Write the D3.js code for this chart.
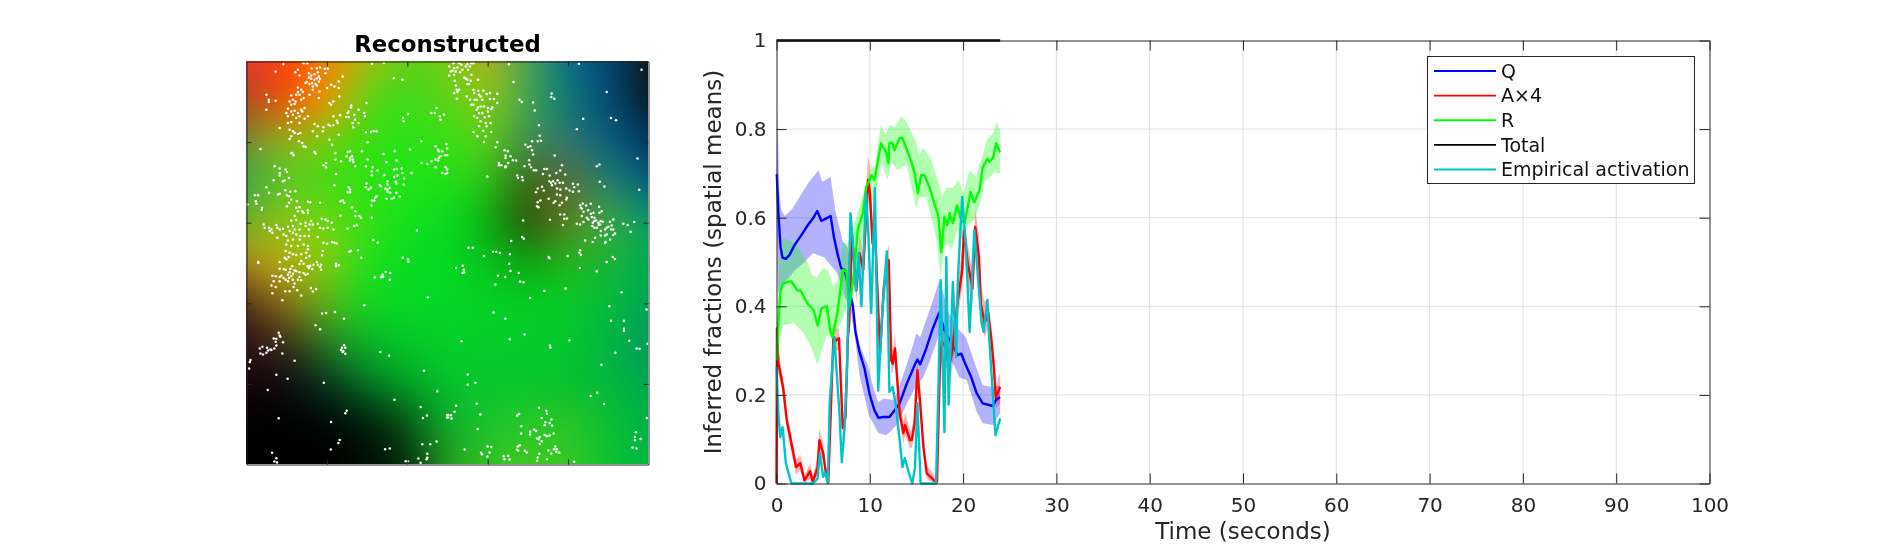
<!DOCTYPE html>
<html>
<head>
<meta charset="utf-8">
<script src="https://cdn.jsdelivr.net/npm/d3@7/dist/d3.min.js"></script>
<style>
  html, body { margin: 0; background: #fff; overflow: hidden; }
  canvas, svg { position: absolute; left: 0; top: 0; }
  text { font-family: "DejaVu Sans", sans-serif; fill: #262626; }
</style>
</head>
<body>
<script>
// time in seconds, fraction
const qLine = [[0.03,.698],[.2,.61],[.43,.534],[.64,.51],[1,.507],[1.4,.516],[1.93,.538],[2.65,.56],[3.35,.583],[3.9,.598],[4.36,.615],[4.8,.593],[5.3,.598],[5.8,.604],[6.15,.557],[6.57,.516],[6.93,.486],[7.3,.482],[7.7,.444],[8.2,.399],[8.47,.342],[8.9,.297],[9.43,.26],[10,.2],[10.5,.165],[10.93,.148],[11.4,.15],[12.1,.15],[12.65,.165],[13.2,.181],[13.9,.222],[14.8,.267],[15.1,.28],[15.4,.269],[16.05,.305],[16.75,.35],[17.45,.386],[18,.346],[18.45,.328],[18.9,.312],[19.4,.29],[19.8,.293],[20.3,.267],[20.85,.241],[21.45,.204],[22.1,.181],[23.2,.175],[23.5,.188],[23.97,.195]];
const qUpper = [[0,.7],[.1,.85],[.3,.66],[.5,.617],[.9,.604],[1.7,.62],[2.6,.651],[3.5,.681],[4.5,.707],[4.9,.681],[5.8,.692],[6.3,.617],[7.1,.546],[7.6,.534],[8,.497],[8.4,.357],[8.9,.312],[9.8,.267],[10.3,.222],[10.9,.184],[11.5,.192],[12.6,.188],[13.2,.222],[14.4,.297],[15,.339],[15.4,.33],[16.6,.403],[17.47,.459],[18.5,.384],[19.6,.346],[20.3,.33],[21.4,.263],[22.1,.222],[23.2,.218],[23.97,.222]];
const qLower = [[0,.62],[.15,.43],[1.1,.459],[2,.482],[2.9,.497],[3.9,.52],[5.1,.511],[6.5,.475],[7.3,.421],[7.9,.398],[8.4,.33],[8.9,.245],[9.9,.154],[10.9,.114],[11.8,.109],[12.9,.132],[13.9,.177],[15,.222],[15.7,.238],[16.4,.274],[17.3,.328],[17.5,.346],[18.6,.285],[19.6,.24],[20.4,.233],[21.4,.165],[22.1,.136],[23.2,.132],[23.97,.159]];

const rLine = [[.05,.278],[.2,.362],[.4,.43],[.7,.452],[1.55,.457],[2.25,.436],[2.6,.435],[3.3,.407],[4,.391],[4.4,.357],[4.85,.396],[5.4,.4],[5.75,.346],[6,.33],[6.57,.391],[7.1,.482],[7.47,.48],[7.8,.399],[8.36,.482],[8.7,.572],[9.25,.61],[9.6,.669],[10.2,.696],[10.5,.685],[11.2,.768],[11.75,.748],[12,.723],[12.1,.768],[12.4,.77],[12.65,.753],[13.2,.78],[13.5,.78],[13.9,.757],[14.4,.73],[14.8,.7],[15.15,.655],[15.5,.696],[15.86,.696],[16.4,.669],[16.9,.633],[17.36,.602],[17.65,.522],[18,.602],[18.3,.583],[18.55,.61],[18.9,.588],[19.36,.628],[19.8,.594],[20.15,.588],[20.5,.625],[20.8,.658],[21.2,.635],[21.76,.662],[22.1,.713],[22.6,.733],[22.8,.726],[23.2,.735],[23.54,.768],[23.97,.748]];
const rUpper = [[.03,.3],[.3,.5],[.5,.55],[1,.552],[2.1,.542],[3.4,.497],[3.8,.47],[4.4,.466],[4.9,.486],[5.5,.482],[6.1,.444],[6.6,.46],[7.1,.546],[7.6,.54],[8.7,.61],[9.25,.647],[9.7,.678],[10.2,.723],[10.5,.707],[11.2,.811],[11.7,.786],[12.1,.809],[12.7,.805],[13.4,.83],[14.1,.809],[15,.768],[15.3,.741],[15.7,.759],[16.6,.73],[17.5,.669],[17.7,.647],[18.2,.669],[18.9,.667],[19.5,.685],[20,.655],[20.7,.707],[21.4,.692],[22.1,.741],[22.5,.775],[23.2,.791],[23.6,.816],[23.97,.798]];
const rLower = [[.05,.278],[.4,.33],[.75,.357],[1.9,.362],[2.8,.342],[3.7,.308],[4.4,.267],[4.85,.301],[5.4,.335],[6,.33],[6.8,.357],[7.4,.391],[8.1,.43],[8.7,.5],[9.25,.55],[9.6,.6],[10.2,.64],[10.5,.64],[11.2,.725],[11.9,.685],[12.3,.725],[13,.707],[13.9,.72],[14.4,.678],[14.95,.62],[15.3,.647],[16.05,.647],[16.6,.598],[17.1,.556],[17.6,.466],[18,.538],[18.5,.538],[18.75,.527],[19.4,.572],[19.9,.549],[20.3,.579],[20.8,.588],[21.2,.594],[21.76,.628],[22.3,.681],[22.8,.69],[23.4,.703],[23.97,.7]];

// time, A x 4, lower, upper
const aLine = [[0,0,0,0],[.05,.35,.33,.37],[.2,.272,.25,.3],[.7,.218,.2,.24],[1.1,.143,.125,.16],[1.6,.09,.07,.11],[2.1,.037,.02,.055],[2.55,.046,.03,.065],[3,.007,0,.02],[3.6,.028,.01,.045],[3.9,.003,0,.015],[4.4,.037,.02,.06],[4.6,.098,.07,.125],[5,.068,.05,.09],[5.3,.023,.01,.04],[5.55,.003,0,.01],[5.85,.181,.16,.2],[6.1,.331,.31,.36],[6.4,.323,.3,.35],[6.7,.328,.3,.35],[7.1,.125,.1,.15],[7.4,.15,.13,.17],[7.65,.33,.3,.36],[7.8,.364,.34,.4],[8.07,.565,.53,.6],[8.55,.436,.41,.47],[8.9,.52,.49,.56],[9.3,.482,.45,.52],[9.8,.685,.64,.74],[10,.66,.62,.72],[10.3,.542,.5,.59],[10.5,.6,.56,.65],[10.85,.42,.39,.46],[11.1,.294,.27,.33],[11.5,.444,.41,.48],[12.03,.504,.47,.54],[12.3,.278,.25,.31],[12.45,.27,.25,.3],[12.7,.305,.28,.34],[13.2,.158,.14,.19],[13.6,.114,.09,.14],[13.8,.132,.11,.16],[14.3,.098,.08,.12],[14.5,.098,.08,.12],[14.8,.136,.11,.16],[15.1,.256,.23,.28],[15.4,.181,.16,.21],[15.75,.082,.06,.1],[16.1,.023,.01,.04],[16.9,.007,0,.02],[17.2,.003,0,.01],[17.5,.256,.22,.28],[17.7,.323,.28,.36],[18.1,.308,.27,.34],[18.5,.263,.23,.3],[18.85,.301,.26,.34],[19.4,.407,.37,.45],[19.9,.482,.44,.53],[20.1,.572,.52,.6],[20.5,.497,.45,.54],[21,.44,.4,.48],[21.3,.579,.52,.62],[21.7,.511,.47,.56],[21.9,.407,.38,.45],[22.3,.362,.33,.41],[22.7,.384,.35,.42],[23,.33,.3,.36],[23.3,.263,.23,.3],[23.5,.193,.17,.22],[23.97,.218,.18,.25]];

const totalLine = [[0,1],[23.97,1]];

const empLine = [[0,.263],[.2,.159],[.4,.105],[.65,.127],[1,.046],[1.3,.023],[1.6,0],[3.9,0],[4.4,.011],[4.65,.068],[5,.015],[5.2,.025],[5.5,0],[5.7,.181],[6,.272],[6.2,.33],[6.4,.267],[6.75,.158],[7,.048],[7.3,.127],[7.55,.256],[7.93,.61],[8.2,.54],[8.5,.436],[8.8,.52],[9.1,.4],[9.6,.655],[9.85,.56],[10.15,.385],[10.55,.667],[10.9,.21],[11.35,.39],[11.82,.524],[12.1,.207],[12.45,.218],[12.75,.181],[13.2,.098],[13.5,.037],[13.75,.057],[14.2,.023],[14.55,0],[14.85,.037],[15.1,.181],[15.45,0],[17.1,0],[17.4,.256],[17.6,.459],[18,.116],[18.2,.511],[18.45,.178],[18.9,.455],[19.25,.285],[19.45,.466],[19.9,.647],[20.3,.534],[20.7,.342],[21.2,.572],[21.97,.365],[22.2,.342],[22.6,.414],[22.8,.328],[23.47,.109],[23.97,.147]];

const xTicks = [0,10,20,30,40,50,60,70,80,90,100];
const yTicks = [0,.2,.4,.6,.8,1];
const legendLabels = ['Q','A\u00d74','R','Total','Empirical activation'];
const legendColors = ['#0000ff','#ff0000','#00ff00','#000000','#00c4cc'];

// reconstructed image, 11 x 11 colours, top row first
const imageRows = [
  ['#e04030','#ff3808','#f88c00','#a0c010','#58d018','#70cc14','#b8b01c','#48a850','#0a7090','#04487c','#081c1c'],
  ['#b04a20','#f84c04','#fc9800','#50d818','#38dc18','#58d418','#8ccc0c','#40a850','#087a70','#044c7c','#041e2c'],
  ['#789030','#8cc018','#70d010','#30e010','#28e414','#30e014','#60d014','#408858','#387a78','#066080','#023a68'],
  ['#38a84c','#58c828','#40dc14','#28e414','#20e418','#20e018','#28c818','#386010','#686c30','#208a70','#085c80'],
  ['#78b020','#90c810','#70d410','#38e014','#10e01c','#08dc20','#08b414','#284008','#688020','#40a840','#10a060'],
  ['#b89020','#c0b00c','#80d010','#20e01c','#04dc20','#04d822','#08c41c','#08a414','#20bc18','#18b834','#00ac50'],
  ['#503418','#987018','#60b818','#10d820','#04d824','#04d824','#04d424','#04d024','#08cc28','#04bc3c','#00a850'],
  ['#301418','#3c2818','#288028','#08b828','#04c828','#04d028','#04cc2c','#04cc2c','#04c82c','#04b440','#009c5c'],
  ['#140408','#0c0810','#063020','#047828','#04a828','#04c42c','#08c82c','#08c82c','#04c030','#04b83c','#00a84c'],
  ['#000000','#000000','#000404','#021408','#044c14','#10b02c','#18c430','#28c828','#30c428','#0cc030','#00b444'],
  ['#000000','#000000','#000000','#000c00','#042810','#28a020','#30c424','#40c820','#38c824','#08c430','#00b840']
];

// white dots, one list per quarter of the image, units of 1/606 of a quarter
const dotsNW = [[111,8],[172,5],[183,5],[196,20],[212,20],[222,18],[236,22],[245,22],[238,35],[155,25],[147,32],[160,42],[188,35],[195,42],[205,38],[215,32],[218,45],[212,50],[205,55],[195,52],[188,48],[182,62],[190,68],[198,65],[208,68],[218,60],[222,52],[200,75],[212,72],[178,65],[88,30],[290,45],[278,60],[255,70],[265,75],[243,80],[278,80],[155,78],[165,85],[170,92],[155,92],[200,85],[190,100],[220,90],[218,110],[150,100],[160,100],[135,102],[130,120],[140,115],[148,120],[135,130],[145,128],[60,100],[67,115],[67,122],[88,118],[60,145],[280,105],[250,125],[262,120],[255,130],[172,110],[165,115],[175,140],[168,150],[125,142],[135,150],[145,148],[155,155],[165,145],[120,155],[125,165],[140,160],[150,170],[160,165],[175,172],[185,165],[125,185],[135,182],[160,185],[100,200],[130,205],[140,210],[145,215],[155,218],[135,225],[130,233],[162,215],[158,240],[168,245],[172,255],[178,257],[205,188],[215,195],[232,198],[230,210],[200,210],[213,225],[247,190],[252,193],[262,192],[272,178],[275,185],[282,162],[262,165],[278,220],[250,235],[258,250],[316,132],[315,138],[308,150],[305,155],[362,125],[338,145],[355,155],[357,165],[325,160],[300,167],[308,167],[327,175],[320,185],[338,185],[322,198],[360,213],[375,212],[383,210],[392,210],[365,243],[472,170],[474,180],[487,158],[444,50],[470,55],[378,7],[414,4],[557,155],[568,155],[573,140],[583,165],[585,175],[595,160],[527,240],[493,265],[447,270],[413,278],[422,303],[453,298],[570,255],[577,265],[580,270],[590,270],[603,248],[605,262],[598,282],[605,282],[585,285],[580,290],[570,295],[578,298],[558,300],[528,305],[545,308],[570,318],[600,318],[605,325],[590,335],[600,338],[605,335],[42,263],[138,275],[142,282],[135,275],[205,272],[208,277],[268,275],[268,295],[285,300],[305,272],[312,270],[302,285],[312,290],[318,285],[320,295],[312,298],[322,302],[328,315],[348,270],[365,295],[360,315],[240,305],[232,312],[240,318],[270,338],[380,318],[378,330],[395,328],[378,342],[445,325],[453,323],[468,322],[470,335],[445,347],[455,343],[475,352],[498,335],[415,342],[425,360],[425,370],[100,322],[118,325],[122,332],[85,315],[100,335],[100,343],[128,350],[110,360],[115,358],[82,357],[265,372],[362,367],[360,378],[368,385],[375,380],[405,375],[402,372],[418,382],[425,385],[432,380],[425,392],[433,395],[450,362],[452,367],[474,370],[60,378],[68,395],[117,387],[132,392],[147,390],[95,400],[100,398],[25,402],[35,402],[122,402],[128,405],[135,415],[308,378],[312,385],[305,393],[312,393],[392,405],[388,410],[378,418],[385,418],[422,413],[438,413],[452,395],[462,406],[445,410],[377,433],[283,420],[290,418],[295,425],[222,425],[185,422],[192,423],[152,420],[28,420],[30,428],[3,430],[47,440],[46,446],[128,425],[122,435],[150,440],[160,438],[185,447],[185,456],[168,450],[172,455],[155,450],[145,465],[150,477],[135,478],[318,438],[328,450],[328,465],[340,465],[345,470],[283,463],[378,470],[227,473],[238,475],[245,480],[257,485],[245,500],[262,505],[305,502],[325,495],[333,492],[52,490],[55,500],[68,500],[75,505],[70,510],[78,515],[90,492],[93,500],[100,505],[110,503],[125,497],[140,495],[145,505],[163,488],[178,485],[195,480],[190,490],[200,490],[215,488],[222,500],[232,502],[178,495],[188,505],[160,505],[130,510],[112,520],[120,525],[140,515],[150,520],[162,525],[175,525],[188,525],[215,528],[93,530],[125,538],[140,535],[160,535],[120,550],[135,555],[155,555],[172,550],[185,555],[185,565],[232,545],[243,548],[258,543],[265,545],[272,547],[230,570],[228,583],[118,570],[130,575],[140,580],[150,582],[165,580],[180,575],[190,585],[212,603],[115,590],[120,595],[127,588],[180,590],[165,600],[100,603],[35,603],[382,537],[396,545],[514,508],[310,572],[315,570],[336,568],[346,590],[471,590],[487,595],[488,602]];
const dotsNE = [[18,5],[35,5],[42,10],[60,8],[72,5],[78,5],[5,15],[20,20],[30,18],[55,15],[68,15],[62,25],[15,28],[25,30],[45,25],[38,32],[10,30],[5,42],[20,40],[50,48],[55,52],[72,40],[60,55],[70,58],[65,68],[60,68],[92,55],[22,58],[25,72],[28,85],[35,85],[30,92],[20,95],[28,112],[185,8],[396,7],[585,25],[199,62],[78,85],[93,88],[108,88],[80,95],[95,100],[100,105],[118,98],[128,95],[150,97],[58,105],[68,115],[82,115],[88,115],[105,115],[128,113],[140,113],[150,125],[72,130],[78,130],[92,138],[100,135],[110,135],[122,140],[132,143],[88,145],[95,155],[105,155],[122,150],[135,138],[80,165],[90,170],[112,168],[125,165],[100,180],[115,185],[130,185],[95,195],[118,195],[108,208],[132,212],[78,212],[90,225],[115,225],[110,242],[217,115],[224,122],[258,123],[263,147],[314,96],[313,107],[322,112],[480,92],[409,172],[493,170],[508,177],[276,192],[390,204],[278,223],[282,238],[272,240],[255,240],[235,250],[243,258],[250,255],[255,267],[258,280],[150,243],[145,258],[172,267],[182,270],[175,283],[190,285],[175,290],[197,297],[207,298],[155,305],[155,312],[162,312],[175,315],[183,305],[175,318],[120,346],[246,297],[247,310],[252,318],[232,315],[260,327],[267,327],[292,323],[300,323],[288,338],[328,335],[340,328],[345,312],[355,340],[323,283],[450,315],[458,310],[573,292],[228,478],[210,343],[213,350],[225,347],[227,357],[308,343],[307,360],[312,365],[318,360],[315,372],[325,367],[332,357],[338,365],[348,365],[330,382],[340,385],[358,382],[368,388],[378,392],[378,368],[382,378],[393,370],[396,390],[272,382],[285,377],[267,393],[290,388],[330,400],[340,402],[360,410],[358,415],[345,425],[320,425],[325,420],[305,413],[338,432],[280,418],[272,423],[270,435],[274,438],[459,362],[473,376],[578,386],[400,432],[408,427],[418,433],[432,428],[405,442],[402,440],[410,452],[405,465],[424,447],[440,455],[432,458],[457,437],[465,450],[458,455],[420,470],[425,475],[435,468],[443,470],[340,460],[352,460],[352,473],[360,472],[348,492],[309,476],[390,488],[400,490],[410,483],[438,485],[442,480],[448,478],[455,485],[456,492],[450,500],[443,500],[437,495],[462,480],[468,482],[460,490],[490,482],[500,475],[495,493],[485,497],[480,500],[493,505],[500,505],[475,505],[462,510],[505,517],[480,520],[475,523],[462,523],[500,522],[445,530],[490,535],[475,545],[477,543],[438,543],[415,538],[530,488],[543,492],[563,483],[552,512],[225,528],[230,533],[192,540],[63,560],[76,560],[137,572],[147,572],[158,576],[110,585],[188,580],[305,588],[307,592],[362,585],[400,568],[398,575],[402,582],[498,588],[505,594],[480,603]];
const dotsSW = [[36,0],[100,17],[112,18],[118,20],[132,18],[138,10],[145,22],[160,3],[172,2],[185,10],[188,15],[198,18],[192,8],[202,5],[215,5],[225,5],[222,12],[225,20],[270,2],[270,10],[278,7],[78,38],[88,40],[100,42],[105,38],[112,45],[118,50],[125,35],[130,28],[135,40],[128,45],[140,32],[150,25],[160,28],[172,30],[185,32],[178,35],[160,42],[155,50],[165,52],[140,50],[125,55],[82,55],[100,55],[75,68],[88,72],[145,62],[142,72],[194,75],[200,86],[210,78],[117,85],[130,85],[153,82],[78,91],[165,98],[108,112],[420,27],[410,35],[433,30],[405,43],[412,42],[387,43],[432,50],[547,103],[355,127],[267,147],[240,150],[228,152],[294,168],[208,187],[222,199],[97,210],[100,218],[102,222],[90,228],[82,227],[88,237],[110,238],[90,248],[84,257],[72,260],[62,255],[65,263],[48,252],[40,257],[42,272],[50,275],[60,270],[108,272],[75,262],[12,292],[10,298],[8,317],[145,294],[90,336],[124,348],[64,382],[97,467],[294,247],[298,255],[288,255],[285,262],[290,268],[298,273],[292,265],[403,268],[430,279],[535,324],[575,386],[446,411],[525,433],[544,459],[532,466],[605,457],[605,465],[233,360],[302,444],[298,452],[255,478],[281,532],[277,541],[254,561],[418,560],[432,558],[530,545],[554,545],[573,537],[77,571],[90,587],[84,597],[92,600],[545,574],[545,586],[518,588],[543,590],[525,601],[480,596],[487,596]];
const dotsSE = [[26,15],[46,8],[49,20],[46,30],[50,28],[186,2],[190,24],[215,30],[152,38],[174,42],[219,56],[229,58],[144,65],[399,15],[450,25],[249,105],[292,84],[356,77],[525,88],[488,130],[600,140],[139,149],[174,168],[493,174],[532,174],[532,198],[532,204],[232,215],[42,235],[188,229],[367,232],[548,234],[309,248],[310,254],[570,257],[579,258],[603,243],[506,270],[464,306],[61,335],[84,360],[61,366],[451,390],[432,400],[472,424],[88,423],[26,429],[21,447],[2,457],[10,458],[2,465],[12,468],[99,456],[210,459],[216,454],[276,435],[298,444],[300,453],[284,466],[313,471],[295,479],[308,481],[293,488],[315,489],[601,466],[91,499],[222,491],[261,501],[249,507],[267,505],[249,516],[222,513],[293,517],[300,521],[308,519],[320,513],[270,528],[278,523],[275,530],[284,536],[278,544],[568,509],[565,523],[582,529],[565,533],[52,561],[121,552],[132,553],[212,552],[218,548],[210,562],[213,564],[233,565],[239,570],[304,564],[325,552],[321,560],[329,560],[328,568],[337,571],[313,573],[558,555],[570,558],[101,571],[104,575],[127,570],[120,582],[169,581],[183,580],[172,590],[187,591],[277,574],[272,585],[270,595],[300,590],[382,598]];

const W = 1891, H = 544;
const frameColor = '#262626';

// left panel
const img = {left: 246.5, right: 648.5, top: 61.5, bottom: 464.5};

const canvas = d3.select('body').append('canvas').attr('width', W).attr('height', H).node();
const ctx = canvas.getContext('2d');
// smooth surface through the colour table, one column spline per grid column
const columnSplines = imageRows[0].map((_, i) => d3.interpolateRgbBasis(imageRows.map(r => r[i])));
const iw = Math.round(img.right - img.left), ih = Math.round(img.bottom - img.top);
for (let py = 0; py < ih; py++) {
  const rowSpline = d3.interpolateRgbBasis(columnSplines.map(f => f(py / (ih - 1))));
  for (let px = 0; px < iw; px++) {
    ctx.fillStyle = rowSpline(px / (iw - 1));
    ctx.fillRect(Math.floor(img.left) + px, Math.floor(img.top) + py, 1, 1);
  }
}

const svg = d3.select('body').append('svg').attr('width', W).attr('height', H);

const imgX = d3.scaleLinear().domain([0, 5]).range([img.left, img.right]);
const imgY = d3.scaleLinear().domain([0, 5]).range([img.top, img.bottom]);
const quarterW = (img.right - img.left) / 2, quarterH = (img.bottom - img.top) / 2;

[[dotsNW, 0, 0], [dotsNE, 1, 0], [dotsSW, 0, 1], [dotsSE, 1, 1]].forEach(([dots, qx, qy]) => {
  const x = d3.scaleLinear().domain([0, 606]).range([img.left + qx * quarterW, img.left + (qx + 1) * quarterW]);
  const y = d3.scaleLinear().domain([0, 606]).range([img.top + qy * quarterH, img.top + (qy + 1) * quarterH]);
  svg.append('g').selectAll('circle').data(dots).enter().append('circle')
    .attr('cx', d => x(d[0])).attr('cy', d => y(d[1])).attr('r', 1.25).attr('fill', '#fff');
});

const styleAxis = g => {
  g.select('.domain').attr('stroke', frameColor);
  g.selectAll('.tick line').attr('stroke', frameColor);
};
const imgTicks = [1, 2, 3, 4];
svg.append('g').attr('transform', `translate(0,${img.bottom})`)
  .call(d3.axisBottom(imgX).tickValues(imgTicks).tickSize(-5).tickSizeOuter(0).tickFormat('')).call(styleAxis);
svg.append('g').attr('transform', `translate(0,${img.top})`)
  .call(d3.axisTop(imgX).tickValues(imgTicks).tickSize(-5).tickSizeOuter(0).tickFormat('')).call(styleAxis);
svg.append('g').attr('transform', `translate(${img.left},0)`)
  .call(d3.axisLeft(imgY).tickValues(imgTicks).tickSize(-5).tickSizeOuter(0).tickFormat('')).call(styleAxis);
svg.append('g').attr('transform', `translate(${img.right},0)`)
  .call(d3.axisRight(imgY).tickValues(imgTicks).tickSize(-5).tickSizeOuter(0).tickFormat('')).call(styleAxis);

svg.append('text').attr('x', (img.left + img.right) / 2).attr('y', 52)
  .attr('text-anchor', 'middle').style('font-size', '22.8px').style('font-weight', 'bold').style('fill', '#000')
  .text('Reconstructed');

// right panel
const plot = {left: 776.5, right: 1709.5, top: 40.5, bottom: 483.5};
const x = d3.scaleLinear().domain([0, 100]).range([plot.left, plot.right]);
const y = d3.scaleLinear().domain([0, 1]).range([plot.bottom, plot.top]);

const grid = svg.append('g').attr('stroke', '#dfdfdf').attr('stroke-width', 1);
grid.selectAll('.gx').data(xTicks.slice(1, -1)).enter().append('line')
  .attr('x1', d => x(d)).attr('x2', d => x(d)).attr('y1', plot.top).attr('y2', plot.bottom);
grid.selectAll('.gy').data(yTicks.slice(1, -1)).enter().append('line')
  .attr('x1', plot.left).attr('x2', plot.right).attr('y1', d => y(d)).attr('y2', d => y(d));

const line = d3.line().x(d => x(d[0])).y(d => y(d[1]));
const bandPath = (upper, lower) => line(upper.concat(lower.slice().reverse())) + 'Z';
const aUpper = aLine.map(d => [d[0], d[3]]);
const aLower = aLine.map(d => [d[0], d[2]]);

[[qUpper, qLower, '#0000ff'], [aUpper, aLower, '#ff0000'], [rUpper, rLower, '#00ff00']].forEach(([u, l, c]) => {
  svg.append('path').attr('d', bandPath(u, l)).attr('fill', c).attr('fill-opacity', .3);
});

[qLine, aLine, rLine, totalLine, empLine].forEach((s, i) => {
  svg.append('path').attr('d', line(s)).attr('fill', 'none')
    .attr('stroke', legendColors[i]).attr('stroke-width', i === 3 ? 2.6 : 2.4)
    .attr('stroke-linejoin', 'round');
});

const styleTicks = g => {
  styleAxis(g);
  g.selectAll('text').style('font-size', '20px').attr('fill', frameColor).style('font-family', '"DejaVu Sans", sans-serif');
};
svg.append('g').attr('transform', `translate(0,${plot.bottom})`)
  .call(d3.axisBottom(x).tickValues(xTicks).tickSize(-10).tickSizeOuter(0).tickPadding(14).tickFormat(d3.format('d'))).call(styleTicks);
svg.append('g').attr('transform', `translate(0,${plot.top})`)
  .call(d3.axisTop(x).tickValues(xTicks).tickSize(-10).tickSizeOuter(0).tickFormat('')).call(styleAxis);
svg.append('g').attr('transform', `translate(${plot.left},0)`)
  .call(d3.axisLeft(y).tickValues(yTicks).tickSize(-10).tickSizeOuter(0).tickPadding(10).tickFormat(d => d)).call(styleTicks);
svg.append('g').attr('transform', `translate(${plot.right},0)`)
  .call(d3.axisRight(y).tickValues(yTicks).tickSize(-10).tickSizeOuter(0).tickFormat('')).call(styleAxis);

svg.append('text').attr('x', (plot.left + plot.right) / 2).attr('y', 539).attr('text-anchor', 'middle')
  .style('font-size', '23px').text('Time (seconds)');
svg.append('text').attr('transform', `translate(721,${(plot.top + plot.bottom) / 2}) rotate(-90)`)
  .attr('text-anchor', 'middle').style('font-size', '23px').text('Inferred fractions (spatial means)');

// legend
const legendBox = {left: 1427.5, right: 1694.5, top: 56.5, bottom: 183.5};
const legend = svg.append('g');
legend.append('rect').attr('x', legendBox.left).attr('y', legendBox.top)
  .attr('width', legendBox.right - legendBox.left).attr('height', legendBox.bottom - legendBox.top)
  .attr('fill', '#fff').attr('stroke', frameColor);
const legendY = d3.scalePoint().domain(legendLabels).range([71, 169.5]);
const rowsG = legend.selectAll('g').data(legendLabels).enter().append('g')
  .attr('transform', d => `translate(0,${legendY(d)})`);
rowsG.append('line').attr('x1', 1434).attr('x2', 1496).attr('y1', 0).attr('y2', 0)
  .attr('stroke', (d, i) => legendColors[i]).attr('stroke-width', 1.8);
rowsG.append('text').attr('x', 1501).attr('y', 0).attr('dy', '.36em').style('font-size', '19px')
  .style('fill', '#111').text(d => d);
</script>
</body>
</html>
